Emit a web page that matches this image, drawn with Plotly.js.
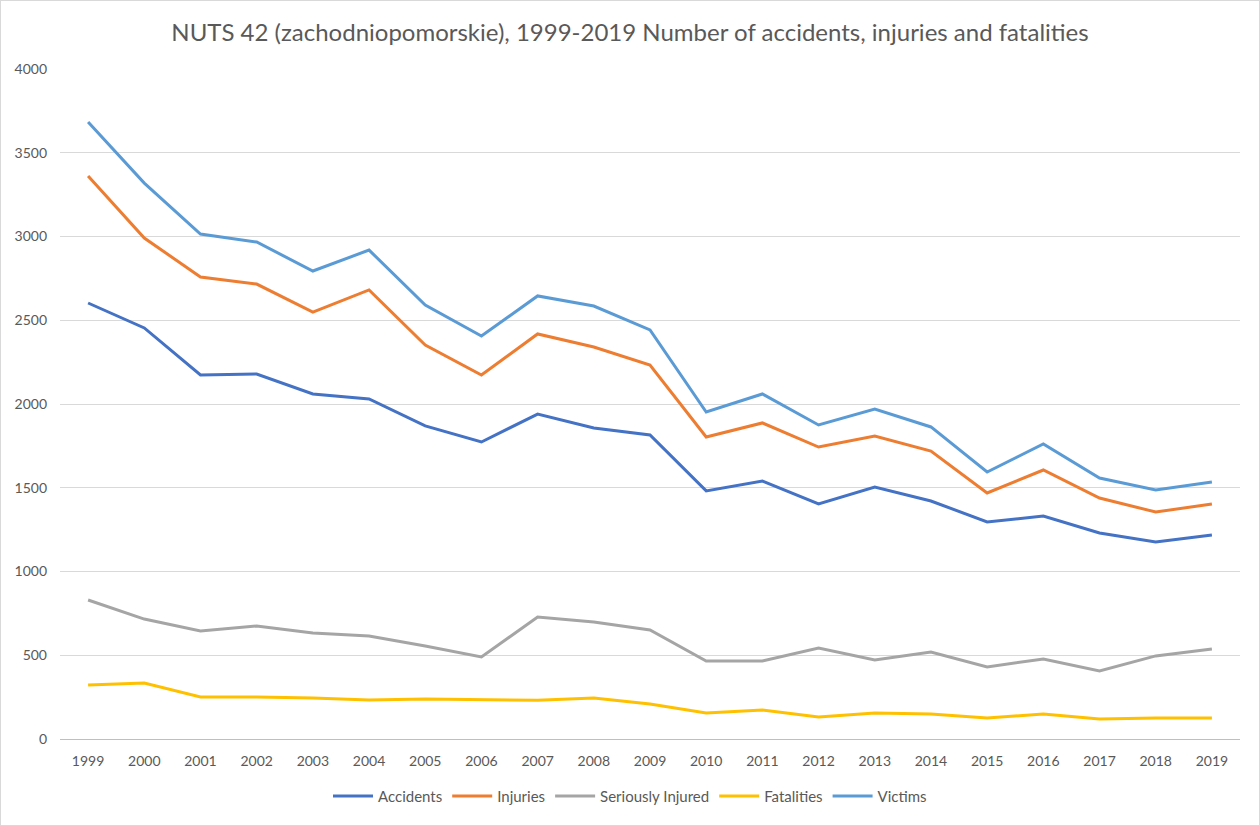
<!DOCTYPE html>
<html>
<head>
<meta charset="utf-8">
<script src="https://cdn.plot.ly/plotly-3.0.1.min.js"></script>
<style>
html,body{margin:0;padding:0;background:#fff;}
#wrap{width:1258px;height:824px;border:1px solid #d9d9d9;}
#chart{width:1258px;height:824px;}
</style>
</head>
<body>
<div id="wrap"><div id="chart"></div></div>
<script>
const years = ["1999","2000","2001","2002","2003","2004","2005","2006","2007","2008","2009","2010","2011","2012","2013","2014","2015","2016","2017","2018","2019"];
const accidents = [2603,2454,2173,2179,2060,2030,1869,1773,1940,1857,1815,1481,1540,1403,1504,1421,1296,1331,1230,1176,1218];
const injuries = [3361,2991,2758,2716,2549,2681,2352,2173,2418,2340,2233,1803,1887,1743,1809,1719,1469,1606,1439,1355,1403];
const seriouslyInjured = [830,716,645,675,633,615,555,490,728,698,651,466,466,543,472,519,430,478,406,496,537];
const fatalities = [322,334,251,251,245,233,239,233,231,245,209,155,173,131,155,149,125,149,119,125,125];
const victims = [3683,3319,3015,2967,2794,2919,2591,2406,2645,2585,2442,1952,2060,1875,1970,1863,1594,1761,1558,1487,1534];
const yTicks = [0,500,1000,1500,2000,2500,3000,3500,4000];

const series = [
  {name:"Accidents", y:accidents, color:"#4472C4"},
  {name:"Injuries", y:injuries, color:"#ED7D31"},
  {name:"Seriously Injured", y:seriouslyInjured, color:"#A5A5A5"},
  {name:"Fatalities", y:fatalities, color:"#FFC000"},
  {name:"Victims", y:victims, color:"#5B9BD5"}
];
const traces = series.map(s => ({
  type:"scatter", mode:"lines", name:s.name, x:years, y:s.y,
  line:{color:s.color, width:3}
}));
const font = "Lato, 'Open Sans', sans-serif";
const layout = {
  width:1258, height:824,
  margin:{l:59, r:19, t:68, b:86},
  paper_bgcolor:"#fff", plot_bgcolor:"#fff",
  font:{family:font, size:14, color:"#595959"},
  title:{text:"NUTS 42 (zachodniopomorskie), 1999-2019 Number of accidents, injuries and fatalities",
         font:{family:font, size:24, color:"#595959"}, x:0.5, xref:"container", y:0.962, yref:"container", yanchor:"middle"},
  xaxis:{type:"category", range:[-0.5,20.5], showgrid:false, zeroline:false,
         showline:true, linecolor:"#bfbfbf", linewidth:1, ticks:"", ticklabelstandoff:9, tickfont:{size:14,color:"#595959"}},
  yaxis:{range:[0,4000], tickvals:yTicks, ticktext:yTicks.map(String), showgrid:true, gridcolor:"#d9d9d9", gridwidth:1,
         zeroline:false, showline:false, ticks:"", ticklabelstandoff:12, tickfont:{size:14,color:"#595959"}},
  showlegend:true,
  legend:{orientation:"h", xref:"container", yref:"container", x:0.5, xanchor:"center", y:0.035, yanchor:"middle",
          font:{size:15,color:"#595959"}, itemwidth:40, tracegroupgap:0}
};
Plotly.newPlot("chart", traces, layout, {displayModeBar:false, staticPlot:true});
</script>
</body>
</html>
